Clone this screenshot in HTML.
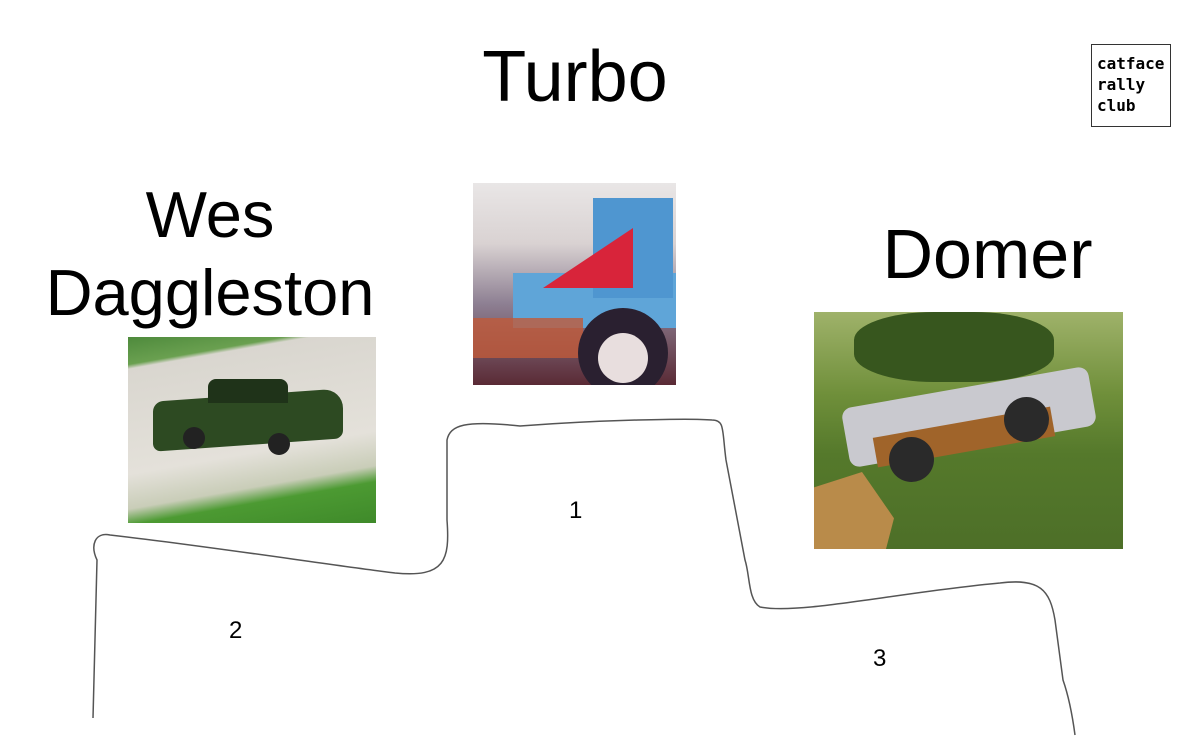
<!DOCTYPE html>
<html><head><meta charset="utf-8"><style>
body{margin:0;width:1203px;height:755px;background:#fff;position:relative;overflow:hidden;font-family:"Liberation Sans",sans-serif}
.t{position:absolute;color:#000;white-space:nowrap}
.img{position:absolute;overflow:hidden}
</style></head><body>
<div class="t" style="left:475px;top:36px;font-size:72px;width:200px;text-align:center">Turbo</div>
<div class="t" style="left:20px;top:176px;font-size:65px;width:380px;text-align:center;line-height:78px">Wes<br>Daggleston</div>
<div class="t" style="left:860px;top:214px;font-size:70px;width:255px;text-align:center">Domer</div>
<div style="position:absolute;left:1091px;top:44px;width:80px;height:83px;border:1px solid #333;font-family:'DejaVu Sans Mono',monospace;font-weight:bold;font-size:16px;line-height:21px;padding:8px 0 0 5px;box-sizing:border-box">catface<br>rally<br>club</div>

<div class="img" style="left:128px;top:337px;width:248px;height:186px;background:linear-gradient(170deg,#4e8a3c 0%,#6aa050 12%,#d9d6cf 14%,#e4e1da 60%,#c9cdb8 75%,#4c9a32 82%,#3f8a2a 100%)">
<div style="position:absolute;left:25px;top:58px;width:190px;height:50px;background:#2d4a22;border-radius:10px 20px 8px 8px;transform:skewY(-4deg)"></div>
<div style="position:absolute;left:80px;top:42px;width:80px;height:24px;background:#1f3319;border-radius:8px 8px 0 0"></div>
<div style="position:absolute;left:55px;top:90px;width:22px;height:22px;background:#222;border-radius:50%"></div>
<div style="position:absolute;left:140px;top:96px;width:22px;height:22px;background:#222;border-radius:50%"></div>
</div>

<div class="img" style="left:473px;top:183px;width:203px;height:202px;background:linear-gradient(180deg,#e9e6e6 0%,#d9d2d2 30%,#8d7f92 60%,#5a2a35 100%)">
<div style="position:absolute;left:40px;top:90px;width:170px;height:55px;background:#5fa5d8"></div>
<div style="position:absolute;left:120px;top:15px;width:80px;height:100px;background:#4f96d0"></div>
<div style="position:absolute;left:70px;top:45px;width:90px;height:60px;background:#d8243a;clip-path:polygon(100% 0,100% 100%,0 100%)"></div>
<div style="position:absolute;left:0;top:135px;width:110px;height:40px;background:#c05a3a;opacity:.8"></div>
<div style="position:absolute;left:105px;top:125px;width:90px;height:90px;background:#2a2030;border-radius:50%"></div>
<div style="position:absolute;left:125px;top:150px;width:50px;height:50px;background:#e8dede;border-radius:50%"></div>
</div>

<div class="img" style="left:814px;top:312px;width:309px;height:237px;background:linear-gradient(180deg,#9fb26a 0%,#6f8f3a 35%,#55792b 60%,#4d6f28 100%)">
<div style="position:absolute;left:40px;top:0;width:200px;height:70px;background:#37561e;border-radius:40%"></div>
<div style="position:absolute;left:0;top:160px;width:80px;height:77px;background:#b98b4a;clip-path:polygon(0 20%,60% 0,100% 60%,90% 100%,0 100%)"></div>
<div style="position:absolute;left:30px;top:75px;width:250px;height:60px;background:#c9c9cf;transform:rotate(-10deg);border-radius:10px"></div>
<div style="position:absolute;left:60px;top:110px;width:180px;height:30px;background:#a0642a;transform:rotate(-10deg)"></div>
<div style="position:absolute;left:75px;top:125px;width:45px;height:45px;background:#2a2a2a;border-radius:50%"></div>
<div style="position:absolute;left:190px;top:85px;width:45px;height:45px;background:#2a2a2a;border-radius:50%"></div>
</div>

<svg width="1203" height="755" style="position:absolute;left:0;top:0">
<path d="M93,718 L97,560 C90,545 95,532 110,535 C200,545 330,565 395,573 C445,578 450,560 447,520 L447,440 C450,425 465,420 520,426 C600,420 690,418 712,420 C725,420 722,430 726,460 L745,560 C750,575 748,600 760,607 C800,615 900,592 1000,583 C1040,578 1050,590 1055,620 L1063,680 C1070,700 1073,720 1075,735" fill="none" stroke="#555" stroke-width="1.5"/>
</svg>
<div class="t" style="left:569px;top:497px;font-size:24px">1</div>
<div class="t" style="left:229px;top:617px;font-size:24px">2</div>
<div class="t" style="left:873px;top:645px;font-size:24px">3</div>
</body></html>
